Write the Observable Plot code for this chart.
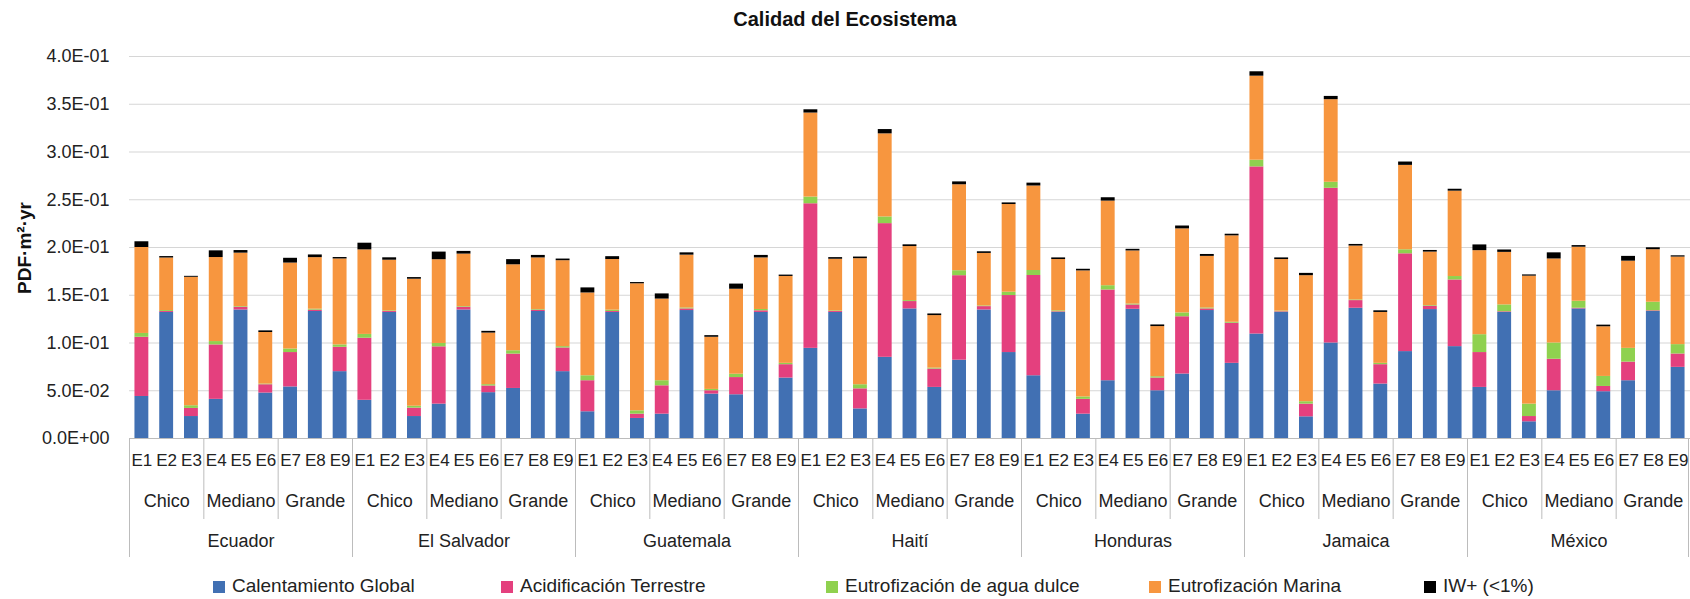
<!DOCTYPE html>
<html>
<head>
<meta charset="utf-8">
<script src="https://cdn.jsdelivr.net/npm/d3@7"></script>
<script src="https://cdn.jsdelivr.net/npm/@observablehq/plot@0.6"></script>
<style>
  html, body { margin: 0; padding: 0; background: #fff; }
  #wrap { position: relative; width: 1690px; height: 599px; font-family: "Liberation Sans", Arial, sans-serif; color: #222; overflow: hidden; }
  #title { height: 38px; line-height: 38px; text-align: center; font-weight: bold; font-size: 20px; color: #111; }
  #ylabel { position: absolute; left: 25px; top: 248px; transform: translate(-50%, -50%) rotate(-90deg); white-space: nowrap; font-weight: bold; font-size: 19px; color: #111; }
  #legend { position: relative; height: 31px; }
  .item { position: absolute; top: 0; height: 36px; line-height: 36px; font-size: 19px; white-space: nowrap; }
  .sw { display: inline-block; width: 12px; height: 12px; margin-right: 7px; vertical-align: -1px; }
</style>
</head>
<body>
<div id="wrap">
  <div id="title">Calidad del Ecosistema</div>
  <div id="chart"></div>
  <div id="ylabel">PDF·m²·yr</div>
  <div id="legend"></div>
</div>
<script>
// ---- Categories ----
const countries = ["Ecuador", "El Salvador", "Guatemala", "Haití", "Honduras", "Jamaica", "México"];
const scenarios = ["E1", "E2", "E3", "E4", "E5", "E6", "E7", "E8", "E9"];
const sizeGroups = ["Chico", "Mediano", "Grande"];
const seriesNames = ["Calentamiento Global", "Acidificación Terrestre", "Eutrofización de agua dulce", "Eutrofización Marina", "IW+ (<1%)"];
const seriesColors = ["#4170b3", "#e4407e", "#8fd14f", "#f7963f", "#000000"];
const yTicks = [0, 0.05, 0.10, 0.15, 0.20, 0.25, 0.30, 0.35, 0.40];

// ---- Series values (per country: E1..E9) ----
const calentamientoGlobal = [
  0.044, 0.132, 0.023, 0.041, 0.1346, 0.0476, 0.054, 0.133, 0.070,   // Ecuador
  0.040, 0.132, 0.023, 0.036, 0.1346, 0.048, 0.0524, 0.133, 0.070,   // El Salvador
  0.028, 0.132, 0.021, 0.0255, 0.134, 0.0465, 0.0458, 0.132, 0.0633, // Guatemala
  0.0944, 0.132, 0.031, 0.085, 0.1357, 0.0535, 0.082, 0.1346, 0.090, // Haití
  0.0657, 0.132, 0.0255, 0.0605, 0.1353, 0.050, 0.0675, 0.134, 0.0787, // Honduras
  0.1094, 0.132, 0.0227, 0.100, 0.1364, 0.057, 0.091, 0.135, 0.0962, // Jamaica
  0.0535, 0.132, 0.0175, 0.050, 0.1357, 0.049, 0.0605, 0.133, 0.0745  // México
];
const acidificacionTerrestre = [
  0.062, 0.001, 0.0085, 0.057, 0.0028, 0.0087, 0.036, 0.0014, 0.0255,
  0.065, 0.001, 0.0088, 0.060, 0.0028, 0.007, 0.036, 0.0014, 0.0248,
  0.0325, 0.001, 0.0045, 0.0297, 0.0017, 0.0035, 0.018, 0.0017, 0.014,
  0.1514, 0.001, 0.021, 0.140, 0.0077, 0.0192, 0.0885, 0.0035, 0.0597,
  0.105, 0.0007, 0.0155, 0.095, 0.0045, 0.0133, 0.060, 0.0017, 0.042,
  0.175, 0.0007, 0.0133, 0.162, 0.008, 0.0203, 0.1024, 0.0035, 0.0698,
  0.0365, 0.0007, 0.0055, 0.033, 0.0007, 0.0055, 0.0195, 0.0007, 0.014
];
const eutrofizacionAguaDulce = [
  0.004, 0.001, 0.0028, 0.0035, 0.0007, 0.0007, 0.0037, 0.001, 0.0025,
  0.004, 0.0007, 0.002, 0.0035, 0.0007, 0.0014, 0.0035, 0.0007, 0.0014,
  0.0052, 0.0014, 0.0035, 0.0053, 0.001, 0.0014, 0.0035, 0.0014, 0.0014,
  0.007, 0.0007, 0.0043, 0.007, 0.001, 0.001, 0.0052, 0.0007, 0.0035,
  0.0052, 0.001, 0.0025, 0.0045, 0.001, 0.0014, 0.004, 0.001, 0.001,
  0.007, 0.0007, 0.0025, 0.0063, 0.0007, 0.0014, 0.0042, 0.0007, 0.0036,
  0.0187, 0.0072, 0.013, 0.017, 0.0073, 0.0105, 0.0144, 0.009, 0.0098
];
const eutrofizacionMarina = [
  0.090, 0.055, 0.1345, 0.088, 0.056, 0.054, 0.090, 0.054, 0.090,
  0.0885, 0.053, 0.133, 0.0877, 0.055, 0.054, 0.090, 0.054, 0.090,
  0.0867, 0.053, 0.133, 0.0855, 0.0553, 0.0546, 0.089, 0.054, 0.091,
  0.088, 0.054, 0.132, 0.087, 0.0566, 0.055, 0.090, 0.055, 0.0918,
  0.0885, 0.0537, 0.132, 0.0886, 0.0556, 0.0525, 0.088, 0.054, 0.0905,
  0.088, 0.054, 0.132, 0.0865, 0.0564, 0.0533, 0.0884, 0.056, 0.0894,
  0.088, 0.055, 0.134, 0.088, 0.0566, 0.052, 0.0913, 0.055, 0.0917
];
const iwPlus = [
  0.006, 0.0015, 0.001, 0.007, 0.0027, 0.0017, 0.005, 0.0028, 0.0015,
  0.007, 0.0025, 0.0017, 0.008, 0.0028, 0.0018, 0.0054, 0.0026, 0.0017,
  0.0053, 0.003, 0.0013, 0.0054, 0.0024, 0.0017, 0.0054, 0.0026, 0.0014,
  0.0034, 0.0017, 0.0017, 0.0045, 0.0018, 0.0017, 0.003, 0.0017, 0.0017,
  0.003, 0.0017, 0.0017, 0.0035, 0.0017, 0.0017, 0.003, 0.002, 0.0017,
  0.0046, 0.0017, 0.0024, 0.0034, 0.0017, 0.0017, 0.0035, 0.0017, 0.002,
  0.006, 0.0025, 0.0013, 0.0064, 0.0017, 0.0017, 0.005, 0.002, 0.0013
];
const seriesValues = [calentamientoGlobal, acidificacionTerrestre, eutrofizacionAguaDulce, eutrofizacionMarina, iwPlus];

// ---- Build table ----
const keys = [];
const rows = [];
countries.forEach((c, ci) => {
  scenarios.forEach((s, si) => {
    const key = c + "|" + s;
    keys.push(key);
    seriesNames.forEach((name, k) => {
      rows.push({key, series: name, value: seriesValues[k][ci * 9 + si]});
    });
  });
});
const groupLabels = countries.flatMap(c => sizeGroups.map((g, i) => ({key: c + "|" + scenarios[i * 3 + 1], label: g})));
const countryLabels = countries.map(c => ({key: c + "|E5", label: c}));
const groupSeps = countries.flatMap(c => [c + "|E4", c + "|E7"]);
const countrySeps = countries.map(c => c + "|E1");

function fmt(d) {
  const [m, e] = d.toExponential(1).split("e");
  const sign = e[0] === "-" ? "-" : "+";
  return m + "E" + sign + String(Math.abs(+e)).padStart(2, "0");
}

const W = 1690, H = 530, mL = 129, mR = 0, mT = 18, mB = 130;
const step = (W - mL - mR) / keys.length;
const sepColor = "#bcbcbc";

const chart = Plot.plot({
  width: W, height: H,
  marginLeft: mL, marginRight: mR, marginTop: mT, marginBottom: mB,
  style: {fontFamily: "'Liberation Sans', Arial, sans-serif", fontSize: "18px", color: "#222", background: "white", overflow: "visible"},
  x: {type: "band", domain: keys, paddingInner: 0.44, paddingOuter: 0.22, align: 0.5, axis: null},
  y: {domain: [0, 0.4]},
  color: {domain: seriesNames, range: seriesColors},
  marks: [
    Plot.ruleY(yTicks.filter(d => d > 0), {stroke: "#d6d6d6", strokeWidth: 1.2}),
    Plot.axisY({ticks: yTicks, tickFormat: fmt, tickSize: 0, tickPadding: 20, fontSize: 18, label: null}),
    Plot.barY(rows, {x: "key", y: "value", fill: "series", order: seriesNames}),
    Plot.ruleY([0], {stroke: sepColor}),
    Plot.ruleX(groupSeps, {x: d => d, y1: 0, y2: 0, insetBottom: -81, dx: -step / 2, stroke: sepColor}),
    Plot.ruleX(countrySeps, {x: d => d, y1: 0, y2: 0, insetBottom: -119, dx: -step / 2, stroke: sepColor}),
    Plot.ruleX([keys[keys.length - 1]], {x: d => d, y1: 0, y2: 0, insetBottom: -119, dx: step / 2 - 2, stroke: sepColor}),
    Plot.text(keys, {x: d => d, text: d => d.split("|")[1], frameAnchor: "bottom", dy: 27, fontSize: 17, fill: "#222"}),
    Plot.text(groupLabels, {x: "key", text: "label", frameAnchor: "bottom", dy: 68, fontSize: 18, fill: "#222"}),
    Plot.text(countryLabels, {x: "key", text: "label", frameAnchor: "bottom", dy: 108, fontSize: 18, fill: "#222"})
  ]
});
document.getElementById("chart").appendChild(chart);

// ---- Legend ----
const legendLefts = [213, 501, 826, 1149, 1424];
const legend = document.getElementById("legend");
seriesNames.forEach((name, i) => {
  const item = document.createElement("div");
  item.className = "item";
  item.style.left = legendLefts[i] + "px";
  const sw = document.createElement("span");
  sw.className = "sw";
  sw.style.background = seriesColors[i];
  item.appendChild(sw);
  item.appendChild(document.createTextNode(name));
  legend.appendChild(item);
});
</script>
</body>
</html>
